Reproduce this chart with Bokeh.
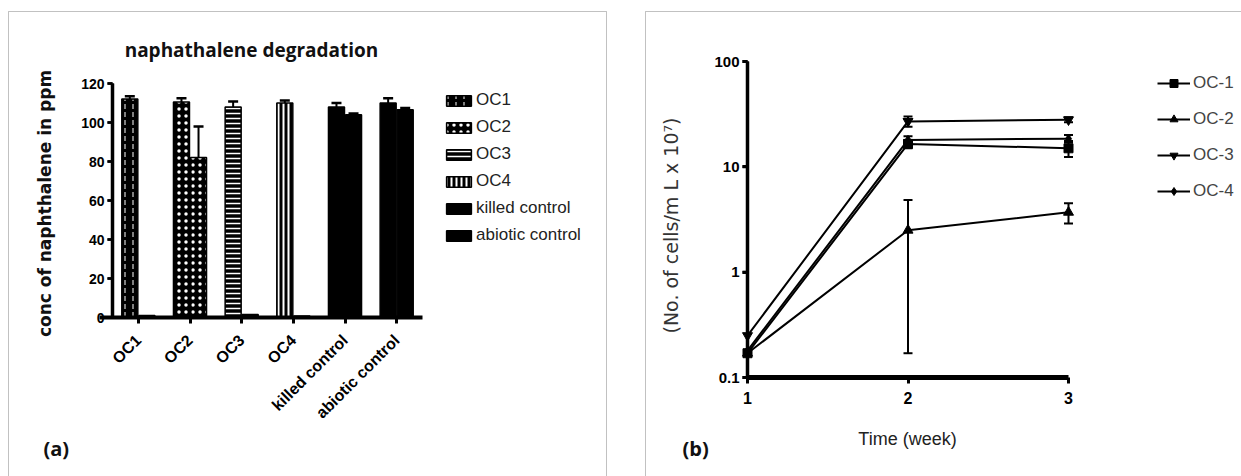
from math import pi
import math
from bokeh.plotting import figure
from bokeh.models import (ColumnDataSource, Range1d, FixedTicker, Whisker, TeeHead, Legend, LegendItem,
                          Label, LinearAxis, LogAxis, LogScale, BoxAnnotation, CustomJSTickFormatter)
from bokeh.core.properties import field
from bokeh.transform import dodge
from bokeh.embed import file_html
from bokeh.resources import INLINE

# ---------------- data: panel (a) ----------------
categories = ["OC1", "OC2", "OC3", "OC4", "killed control", "abiotic control"]
conc_first = [112, 110.5, 108, 110, 108, 110]
conc_first_err = [1.5, 2.0, 2.8, 1.3, 2.0, 2.5]
conc_second = [1.0, 82, 1.5, 0.8, 104, 106.5]
conc_second_err = [0, 16, 0, 0, 0.6, 1.0]
y_ticks_a = [0, 20, 40, 60, 80, 100, 120]

# ---------------- data: panel (b) ----------------
weeks = [1, 2, 3]
series_names = ["OC-1", "OC-2", "OC-3", "OC-4"]
oc1_cells = [0.17, 16.5, 15.0]
oc2_cells = [0.17, 2.5, 3.7]
oc3_cells = [0.25, 27.0, 28.0]
oc4_cells = [0.18, 18.0, 18.5]
oc1_err = [0, 1.5, 2.6]
oc2_err = [0, 2.33, 0.8]
oc3_err = [0, 3.0, 1.5]
oc4_err = [0, 1.5, 1.5]
y_ticks_b = [0.1, 1, 10, 100]

# ---------------- styles ----------------
hatch_patterns = ["vertical_dash", "dot", "horizontal_line", "vertical_line", "blank", "blank"]
hatch_scales = [8, 7, 5, 5, 1, 1]
hatch_weights = [1, 1, 1.5, 2, 1, 1]
markers = ["square", "triangle", "inverted_triangle", "diamond"]
SANS = "Liberation Sans"
FRAME_COLOR = "#333"
TICK_LEN = 5

# ---------------- page layout (pixels) ----------------
W, H = 1241, 476
A_X_LEFT, A_X_RIGHT = 112, 422          # panel (a) axis extent
A_Y_ZERO, A_Y_TOP = 317, 83             # pixel rows of 0 and 120
B_X_FIRST, B_X_LAST = 747, 1068         # panel (b) week 1 .. week 3
B_Y_LOW, B_Y_HIGH = 377, 61             # pixel rows of 0.1 and 100

n_cat = len(categories)
a_ppu_x = (A_X_RIGHT - A_X_LEFT) / n_cat
a_lo, a_hi = min(y_ticks_a), max(y_ticks_a)
a_ppu_y = (A_Y_ZERO - A_Y_TOP) / (a_hi - a_lo)
b_ppu_x = (B_X_LAST - B_X_FIRST) / (weeks[-1] - weeks[0])
b_lo, b_hi = min(y_ticks_b), max(y_ticks_b)
b_ppd = (B_Y_LOW - B_Y_HIGH) / math.log10(b_hi / b_lo)

p = figure(width=W, height=H, x_range=Range1d(0, W), y_range=Range1d(H, 0),
           x_axis_type=None, y_axis_type=None, min_border=0, title_location=None,
           toolbar_location=None, output_backend="svg")
p.outline_line_color = None
p.background_fill_color = "white"
p.border_fill_color = "white"

p.extra_x_ranges = {
    "cat": Range1d(-0.5 - A_X_LEFT / a_ppu_x, -0.5 + (W - A_X_LEFT) / a_ppu_x),
    "week": Range1d(weeks[0] - B_X_FIRST / b_ppu_x, weeks[-1] + (W - B_X_LAST) / b_ppu_x),
}
p.extra_y_ranges = {
    "conc": Range1d(a_lo - (H - A_Y_ZERO) / a_ppu_y, a_hi + A_Y_TOP / a_ppu_y),
    "cells": Range1d(b_lo / 10 ** ((H - B_Y_LOW) / b_ppd), b_hi * 10 ** (B_Y_HIGH / b_ppd)),
}
p.extra_y_scales = {"cells": LogScale()}

# panel frames
p.add_layout(BoxAnnotation(left=8, right=606, top=11, bottom=H + 20, fill_alpha=0,
                           line_color=FRAME_COLOR, line_width=1))
p.add_layout(BoxAnnotation(left=645, right=W + 20, top=11, bottom=H + 20, fill_alpha=0,
                           line_color=FRAME_COLOR, line_width=1))

# =============== panel (a) ===============
src_a = ColumnDataSource(dict(
    idx=list(range(n_cat)), first=conc_first, second=conc_second,
    pat=hatch_patterns, hscale=hatch_scales, hweight=hatch_weights))
common = dict(width=0.31, source=src_a, fill_color="black", line_color="black", line_width=1.5,
              hatch_pattern=field("pat"), hatch_color="white", hatch_scale=field("hscale"),
              hatch_weight=field("hweight"), x_range_name="cat", y_range_name="conc")
r_first = p.vbar(x=dodge("idx", -0.165), top="first", bottom=0, **common)
r_second = p.vbar(x=dodge("idx", 0.165), top="second", bottom=0, **common)

def bar_whisker(vals, errs, offset):
    keep = [i for i, e in enumerate(errs) if e > 0]
    s = ColumnDataSource(dict(idx=keep, lo=[vals[i] for i in keep],
                              hi=[vals[i] + errs[i] for i in keep]))
    p.add_layout(Whisker(source=s, base=dodge("idx", offset), lower="lo", upper="hi",
                         x_range_name="cat", y_range_name="conc",
                         lower_head=None, upper_head=TeeHead(size=10, line_width=2.5, line_color="black"),
                         line_width=2, line_color="black"))

bar_whisker(conc_first, conc_first_err, -0.165)
bar_whisker(conc_second, conc_second_err, 0.165)

# reinforce the left axis rule and its outward ticks (same scales as the axis)
a_axis_x = -0.5
p.segment(x0=[a_axis_x], y0=[a_lo], x1=[a_axis_x], y1=[a_hi], line_color="black", line_width=3.5,
          x_range_name="cat", y_range_name="conc")
p.segment(x0=[a_axis_x - TICK_LEN / a_ppu_x] * len(y_ticks_a), y0=y_ticks_a,
          x1=[a_axis_x] * len(y_ticks_a), y1=y_ticks_a, line_color="black", line_width=2.5,
          x_range_name="cat", y_range_name="conc")

ay = LinearAxis(y_range_name="conc", fixed_location=A_X_LEFT, bounds=(a_lo, a_hi),
                ticker=FixedTicker(ticks=y_ticks_a))
ax = LinearAxis(x_range_name="cat", fixed_location=A_Y_ZERO, bounds=(-0.75, n_cat - 0.5),
                ticker=FixedTicker(ticks=list(range(n_cat))),
                formatter=CustomJSTickFormatter(args=dict(names=categories),
                                                code="return names[Math.round(tick)] || ''"))
for axis in (ay, ax):
    axis.minor_tick_line_color = None
    axis.major_tick_in = 0
    axis.axis_line_color = "black"
    axis.major_tick_line_color = "black"
    axis.major_label_text_color = "black"
    axis.major_label_text_font = SANS
    axis.major_label_text_font_style = "bold"
ay.axis_line_width = 3
ay.major_tick_out = TICK_LEN
ay.major_tick_line_width = 2.5
ay.major_label_text_font_size = "14px"
ay.major_label_standoff = 3
ax.axis_line_width = 4
ax.major_tick_out = 6
ax.major_tick_line_width = 3
ax.major_label_orientation = pi / 4
ax.major_label_text_font_size = "16px"
ax.major_label_standoff = 14
p.add_layout(ay, "left")
p.add_layout(ax, "below")

legend_a = Legend(items=[LegendItem(label=c, renderers=[r_first], index=i) for i, c in enumerate(categories)],
                  location=(443, 231), glyph_width=31, glyph_height=13, label_standoff=2, spacing=7,
                  padding=0, margin=0, border_line_color=None, background_fill_alpha=0,
                  label_text_font=SANS, label_text_font_size="17px", label_height=20,
                  label_text_color="#222")
p.add_layout(legend_a, "center")

p.add_layout(Label(x=251, y=49, text="naphathalene degradation", text_font="Open Sans",
                   text_font_style="bold", text_font_size="19px", text_align="center",
                   text_baseline="middle", text_color="#111"))
p.add_layout(Label(x=44, y=203, angle=pi / 2, text="conc of naphthalene in ppm", text_font="DejaVu Sans",
                   text_font_style="bold", text_font_size="17px", text_align="center",
                   text_baseline="middle", text_color="#111"))
p.add_layout(Label(x=43, y=448, text="(a)", text_font="Open Sans", text_font_style="bold",
                   text_font_size="20px", text_align="left", text_baseline="middle", text_color="#111"))

# =============== panel (b) ===============
all_cells = [oc1_cells, oc2_cells, oc3_cells, oc4_cells]
all_errs = [oc1_err, oc2_err, oc3_err, oc4_err]

# reinforce the left axis rule and its outward ticks (same scales as the axis)
p.segment(x0=[weeks[0]], y0=[b_lo], x1=[weeks[0]], y1=[b_hi], line_color="black", line_width=3.5,
          x_range_name="week", y_range_name="cells")
p.segment(x0=[weeks[0] - TICK_LEN / b_ppu_x] * len(y_ticks_b), y0=y_ticks_b,
          x1=[weeks[0]] * len(y_ticks_b), y1=y_ticks_b, line_color="black", line_width=3,
          x_range_name="week", y_range_name="cells")

items_b = []
for name, vals, errs, mk in zip(series_names, all_cells, all_errs, markers):
    lr = p.line(weeks, vals, line_color="black", line_width=2, x_range_name="week", y_range_name="cells")
    sr = p.scatter(weeks, vals, marker=mk, size=10 if "triangle" in mk else 9,
                   fill_color="black", line_color="black", x_range_name="week", y_range_name="cells")
    keep = [i for i, e in enumerate(errs) if e > 0]
    if keep:
        ws = ColumnDataSource(dict(w=[weeks[i] for i in keep], lo=[vals[i] - errs[i] for i in keep],
                                   hi=[vals[i] + errs[i] for i in keep]))
        p.add_layout(Whisker(source=ws, base="w", lower="lo", upper="hi",
                             x_range_name="week", y_range_name="cells",
                             lower_head=TeeHead(size=9, line_width=2, line_color="black"),
                             upper_head=TeeHead(size=9, line_width=2, line_color="black"),
                             line_width=2, line_color="black"))
    items_b.append(LegendItem(label=name, renderers=[lr, sr]))

by = LogAxis(y_range_name="cells", fixed_location=B_X_FIRST, bounds=(b_lo, b_hi),
             ticker=FixedTicker(ticks=y_ticks_b),
             formatter=CustomJSTickFormatter(code="return String(tick)"))
bx = LinearAxis(x_range_name="week", fixed_location=B_Y_LOW, bounds=(weeks[0], weeks[-1]),
                ticker=FixedTicker(ticks=weeks))
for axis in (by, bx):
    axis.minor_tick_line_color = None
    axis.major_tick_in = 0
    axis.axis_line_color = "black"
    axis.major_tick_line_color = "black"
    axis.major_label_text_color = "black"
    axis.major_label_text_font = SANS
    axis.major_label_text_font_style = "bold"
    axis.major_label_text_font_size = "15px"
by.axis_line_width = 3
by.major_tick_out = TICK_LEN
by.major_tick_line_width = 3
by.major_label_standoff = 3
bx.axis_line_width = 5
bx.major_tick_out = 6
bx.major_tick_line_width = 3
bx.major_label_standoff = 8
bx.major_label_text_font_size = "16px"
p.add_layout(by, "left")
p.add_layout(bx, "below")

legend_b = Legend(items=items_b, location=(1157, 275), glyph_width=33, glyph_height=20, label_standoff=3,
                  spacing=16, padding=0, margin=0, border_line_color=None, background_fill_alpha=0,
                  label_text_font=SANS, label_text_font_size="17px", label_height=20,
                  label_text_color="#444")
p.add_layout(legend_b, "center")

p.add_layout(Label(x=670, y=225, angle=pi / 2, text="(No. of cells/m L x 10⁷)", text_font="DejaVu Sans",
                   text_font_size="19px", text_align="center", text_baseline="middle", text_color="#333"))
p.add_layout(Label(x=907, y=438, text="Time (week)", text_font=SANS, text_font_size="18px",
                   text_align="center", text_baseline="middle", text_color="#222"))
p.add_layout(Label(x=682, y=448, text="(b)", text_font="Open Sans", text_font_style="bold",
                   text_font_size="20px", text_align="left", text_baseline="middle", text_color="#111"))

open("out.html", "w").write(file_html(p, INLINE))
